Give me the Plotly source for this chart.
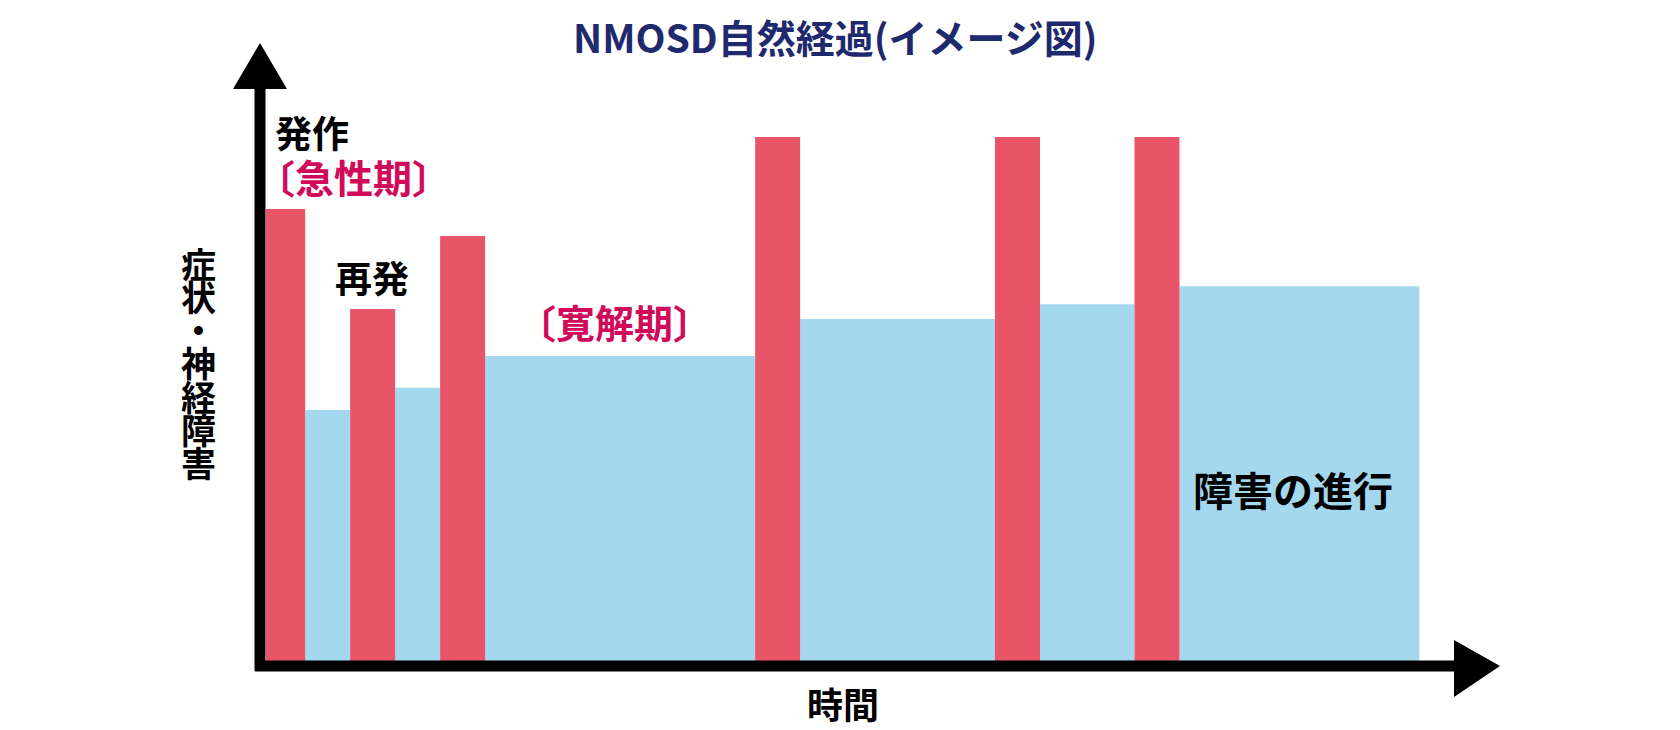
import plotly.graph_objects as go

# phases of the course, left to right
phase = ["発作", "寛解", "再発", "寛解", "再発", "寛解",
         "再発", "寛解", "再発", "寛解", "再発", "寛解"]
duration = [0.87, 1.0, 1.0, 1.0, 1.0, 6.0, 1.0, 4.33, 1.0, 2.1, 1.0, 5.33]
severity = [86.4, 48.4, 67.5, 52.6, 81.3, 58.6, 100, 65.6, 100, 68.4, 100, 71.8]
t_start = 0.133

y_label = ["症", "状", "・", "神", "経", "障", "害"]

RED = "#e85468"
BLUE = "#a3d8ee"
PINK = "#d20a5a"
NAVY = "#1f2a6e"
FONT = "Noto Sans CJK JP"

W, H = 1680, 730
OFF = 8  # page body margin
ML, MR, MT, MB = 260 - OFF, 180 + OFF, 43 - OFF, 64 + OFF
PW, PH = W - ML - MR, H - MT - MB


def px(x):
    return (x - OFF - ML) / PW


def py(y):
    return (H - MB - (y - OFF)) / PH


# bar centres from the durations
centres = []
t = t_start
for d in duration:
    centres.append(t + d / 2)
    t += d

is_attack = [p != "寛解" for p in phase]

fig = go.Figure()
fig.add_trace(go.Bar(
    x=[c for c, a in zip(centres, is_attack) if not a],
    y=[s for s, a in zip(severity, is_attack) if not a],
    width=[d for d, a in zip(duration, is_attack) if not a],
    marker=dict(color=BLUE, line=dict(width=0)),
    hoverinfo="skip",
))
fig.add_trace(go.Bar(
    x=[c for c, a in zip(centres, is_attack) if a],
    y=[s for s, a in zip(severity, is_attack) if a],
    width=[d for d, a in zip(duration, is_attack) if a],
    marker=dict(color=RED, line=dict(width=0)),
    hoverinfo="skip",
))

# axis arrows
fig.add_shape(type="line", xref="paper", yref="paper",
              x0=0, x1=0, y0=py(671), y1=py(88),
              line=dict(color="black", width=11), layer="above")
fig.add_shape(type="path", xref="paper", yref="paper",
              path=f"M {px(233)} {py(89)} L {px(287)} {py(89)} L {px(260)} {py(43)} Z",
              fillcolor="black", line=dict(width=0), layer="above")
fig.add_shape(type="line", xref="paper", yref="paper",
              x0=px(255), x1=px(1456), y0=0, y1=0,
              line=dict(color="black", width=11), layer="above")
fig.add_shape(type="path", xref="paper", yref="paper",
              path=f"M {px(1454)} {py(640)} L {px(1454)} {py(697)} L {px(1500)} {py(666)} Z",
              fillcolor="black", line=dict(width=0), layer="above")


def label(text, x, y, size=36, color="black", xanchor="center"):
    fig.add_annotation(text=text, x=px(x), y=py(y), xref="paper", yref="paper",
                       xanchor=xanchor, yanchor="middle", showarrow=False,
                       font=dict(family=FONT, size=size, color=color, weight=700))


label("NMOSD自然経過(イメージ図)", 835, 36, size=39, color=NAVY)
label("発作", 273, 132, size=37, xanchor="left")
label("〔急性期〕", 353, 176, size=39, color=PINK)
label("再発", 372, 277, size=37)
label("〔寛解期〕", 614, 321, size=39, color=PINK)
label("障害の進行", 1293, 489, size=40)
label("時間", 843, 703, size=36)
for i, ch in enumerate(y_label):
    label(ch, 198, 262 + i * 33.3, size=35)

fig.update_layout(
    width=W, height=H,
    margin=dict(l=ML, r=MR, t=MT, b=MB),
    paper_bgcolor="white", plot_bgcolor="white",
    showlegend=False, barmode="overlay",
    xaxis=dict(range=[0, PW / 45], visible=False, fixedrange=True),
    yaxis=dict(range=[0, 100 * PH / 529], visible=False, fixedrange=True),
)

fig.write_html("out.html", config={"displayModeBar": False})
